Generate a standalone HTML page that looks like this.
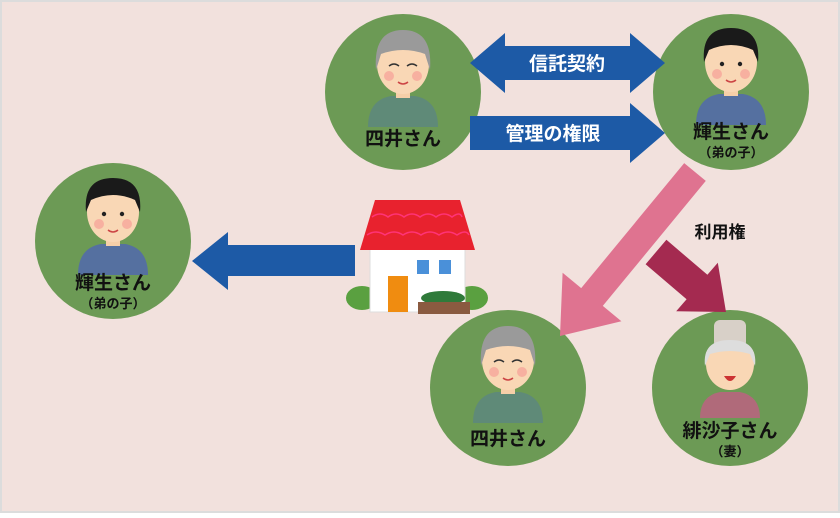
<!DOCTYPE html>
<html><head><meta charset="utf-8"><style>
body{margin:0;background:#fff}
svg text{font-family:"Liberation Sans","Noto Sans CJK JP",sans-serif;font-weight:bold}
</style></head><body>
<svg width="840" height="513" viewBox="0 0 840 513" xmlns="http://www.w3.org/2000/svg">
<rect x="0" y="0" width="840" height="513" fill="#dcdcdc"/>
<rect x="2" y="2" width="836" height="509" fill="#f2e1dd"/>
<defs>
<g id="young">
<path d="M-35,55 Q-35,28 -12,24 L12,24 Q35,28 35,55 Z" fill="#5570a0"/>
<rect x="-7" y="12" width="14" height="14" fill="#f6cfa8"/>
<ellipse cx="0" cy="-8" rx="26" ry="30" fill="#f9d7b5"/>
<path d="M-27,-8 Q-30,-42 0,-42 Q30,-42 27,-8 L22,-20 Q0,-30 -22,-20 Z" fill="#1a1a1a"/>
<circle cx="-9" cy="-6" r="2.2" fill="#222"/><circle cx="9" cy="-6" r="2.2" fill="#222"/>
<circle cx="-14" cy="4" r="5" fill="#f7b0a0"/><circle cx="14" cy="4" r="5" fill="#f7b0a0"/>
<path d="M-5,10 Q0,14 5,10" stroke="#c44" stroke-width="1.5" fill="none"/>
</g>
<g id="old">
<path d="M-35,55 Q-35,28 -12,24 L12,24 Q35,28 35,55 Z" fill="#5f8a78"/>
<rect x="-7" y="12" width="14" height="14" fill="#f6cfa8"/>
<ellipse cx="0" cy="-8" rx="26" ry="30" fill="#f9d7b5"/>
<path d="M-27,-2 Q-30,-42 0,-42 Q30,-42 27,-2 L22,-18 Q0,-26 -22,-18 Z" fill="#9a9a9a"/>
<path d="M-14,-6 Q-9,-10 -4,-6 M4,-6 Q9,-10 14,-6" stroke="#333" stroke-width="1.5" fill="none"/>
<circle cx="-14" cy="4" r="5" fill="#f7b0a0"/><circle cx="14" cy="4" r="5" fill="#f7b0a0"/>
<path d="M-5,10 Q0,14 5,10" stroke="#c44" stroke-width="1.5" fill="none"/>
</g>
</defs>
<!-- circles -->
<circle cx="403" cy="92" r="78" fill="#6c9a55"/>
<circle cx="731" cy="92" r="78" fill="#6c9a55"/>
<circle cx="113" cy="241" r="78" fill="#6c9a55"/>
<circle cx="508" cy="388" r="78" fill="#6c9a55"/>
<circle cx="730" cy="388" r="78" fill="#6c9a55"/>
<use href="#old" x="403" y="72"/>
<use href="#young" x="731" y="70"/>
<use href="#young" x="113" y="220"/>
<use href="#old" x="508" y="368"/>
<!-- grandma -->
<g transform="translate(730,368)">
<path d="M-30,50 Q-30,28 -10,24 L10,24 Q30,28 30,50 Z" fill="#b06a7a"/>
<ellipse cx="0" cy="-4" rx="24" ry="26" fill="#f9d7b5"/>
<rect x="-16" y="-48" width="32" height="28" rx="6" fill="#d8d0c8"/>
<path d="M-25,-2 Q-28,-28 0,-28 Q28,-28 25,-2 L20,-14 Q0,-20 -20,-14 Z" fill="#ddd"/>
<path d="M-6,8 Q0,18 6,8 Z" fill="#c33"/>
</g>
<!-- labels -->
<text x="403" y="145" font-size="19" text-anchor="middle" fill="#111">四井さん</text>
<text x="731" y="138" font-size="19" text-anchor="middle" fill="#111">輝生さん</text>
<text x="731" y="157" font-size="13" text-anchor="middle" fill="#111">（弟の子）</text>
<text x="113" y="289" font-size="19" text-anchor="middle" fill="#111">輝生さん</text>
<text x="113" y="308" font-size="13" text-anchor="middle" fill="#111">（弟の子）</text>
<text x="508" y="445" font-size="19" text-anchor="middle" fill="#111">四井さん</text>
<text x="730" y="437" font-size="19" text-anchor="middle" fill="#111">緋沙子さん</text>
<text x="730" y="456" font-size="13" text-anchor="middle" fill="#111">（妻）</text>
<!-- blue arrows -->
<polygon points="470,63 505,33 505,46 630,46 630,33 665,63 630,93 630,80 505,80 505,93" fill="#1d5aa6"/>
<text x="567" y="70" font-size="19" text-anchor="middle" fill="#fff">信託契約</text>
<polygon points="470,116 630,116 630,103 665,133 630,163 630,150 470,150" fill="#1d5aa6"/>
<text x="553" y="140" font-size="19" text-anchor="middle" fill="#fff">管理の権限</text>
<polygon points="355,245 228,245 228,232 192,261 228,290 228,276 355,276" fill="#1d5aa6"/>
<!-- pink / red arrows -->
<polygon points="705.8,180.9 684.2,163.1 581.2,288.1 562.6,272.8 560,336 621.4,321.2 602.8,305.9" fill="#df7390"/>
<polygon points="666.4,239.8 645.6,264.2 686.6,299.2 676.2,311.3 726,312 717.8,262.7 707.4,274.8" fill="#a42a50"/>
<text x="720" y="238" font-size="17" text-anchor="middle" fill="#111">利用権</text>
<!-- house -->
<g>
<ellipse cx="362" cy="298" rx="16" ry="12" fill="#5aa040"/>
<ellipse cx="472" cy="298" rx="16" ry="12" fill="#5aa040"/>
<rect x="370" y="248" width="95" height="64" fill="#fff" stroke="#ddd"/>
<polygon points="375,200 460,200 475,250 360,250" fill="#e8222e"/>
<path d="M372,217 q8,-6 16,0 q8,-6 16,0 q8,-6 16,0 q8,-6 16,0 q8,-6 16,0 q8,-6 10,0 M367,235 q9,-6 18,0 q9,-6 18,0 q9,-6 18,0 q9,-6 18,0 q9,-6 18,0 q9,-6 12,0" stroke="#f37" stroke-width="1.5" fill="none"/>
<rect x="417" y="260" width="12" height="14" fill="#4a90d9"/>
<rect x="439" y="260" width="12" height="14" fill="#4a90d9"/>
<rect x="388" y="276" width="20" height="36" fill="#f08c10"/>
<ellipse cx="443" cy="298" rx="22" ry="7" fill="#2f7a3a"/>
<rect x="418" y="302" width="52" height="12" fill="#8a5a40"/>
</g>
</svg>
</body></html>
